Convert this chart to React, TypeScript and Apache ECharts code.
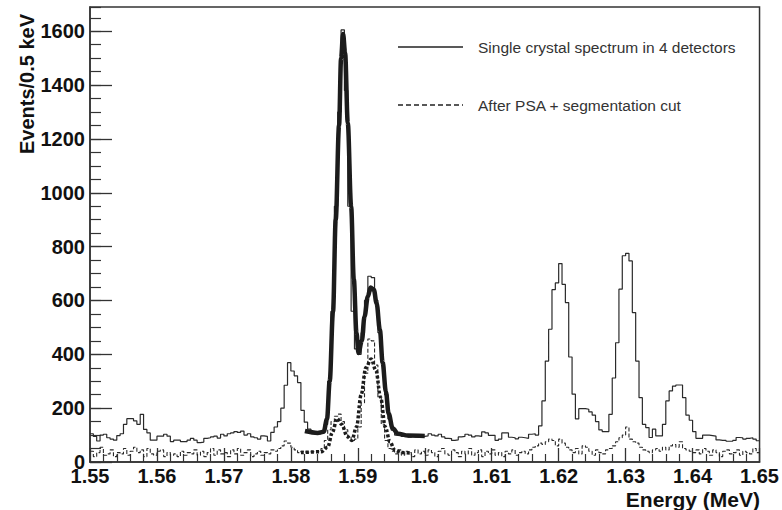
import { useEffect, useRef } from "react";
import * as echarts from "echarts";

// Histogram binning: 0.5 keV bins starting at 1.55 MeV
const BIN_START = 1.55;
const BIN_WIDTH = 0.0005;

// Events per bin, single crystal spectrum summed over 4 detectors
const singleCrystal = [
  105, 95, 78, 100, 103, 90, 85, 81, 98, 105, 140, 161, 161, 153, 140, 177, 121, 108, 81, 81,
  96, 96, 103, 96, 76, 81, 81, 76, 76, 81, 88, 81, 72, 74, 88, 90, 93, 96, 89, 103,
  97, 105, 108, 113, 110, 115, 100, 105, 93, 90, 85, 97, 95, 78, 110, 130, 150, 200, 285, 369,
  338, 320, 295, 192, 148, 122, 108, 105, 104, 110, 140, 300, 560, 950, 1300, 1605, 1380, 950, 560, 420,
  400, 480, 600, 690, 685, 600, 480, 370, 250, 160, 118, 100, 98, 95, 100, 92, 96, 93, 98, 95,
  97, 105, 100, 97, 103, 93, 88, 87, 80, 82, 93, 95, 103, 100, 93, 97, 95, 112, 108, 99,
  99, 80, 85, 108, 108, 92, 90, 86, 92, 90, 88, 103, 105, 100, 134, 227, 375, 493, 640, 665,
  737, 660, 592, 390, 252, 160, 198, 198, 196, 186, 174, 150, 119, 113, 113, 177, 312, 443, 642, 766,
  775, 747, 555, 375, 239, 140, 128, 91, 122, 97, 97, 140, 227, 264, 282, 286, 286, 239, 174, 155,
  113, 88, 88, 100, 100, 98, 96, 82, 80, 80, 77, 77, 80, 91, 90, 85, 88, 90, 85, 79,
];

// Events per bin after pulse-shape analysis + segmentation cut
const afterPsaCut = [
  40, 20, 35, 55, 25, 30, 45, 20, 35, 30, 50, 25, 40, 55, 35, 45, 20, 50, 30, 25,
  40, 45, 20, 35, 25, 30, 20, 40, 25, 35, 30, 45, 25, 40, 20, 35, 50, 25, 45, 30,
  35, 20, 45, 30, 50, 25, 35, 45, 20, 30, 40, 25, 35, 30, 45, 40, 50, 60, 78, 70,
  55, 45, 35, 40, 37, 35, 38, 36, 40, 50, 80, 120, 150, 170, 178, 150, 120, 95, 80, 85,
  130, 220, 330, 457, 450, 360, 240, 140, 80, 50, 40, 30, 45, 25, 40, 35, 20, 45, 30, 40,
  25, 45, 35, 20, 40, 50, 30, 25, 45, 35, 20, 40, 30, 50, 25, 35, 45, 20, 40, 30,
  45, 25, 35, 20, 40, 30, 45, 25, 35, 40, 30, 45, 55, 60, 70, 65, 75, 85, 80, 60,
  85, 70, 55, 45, 35, 50, 30, 60, 55, 40, 25, 45, 35, 30, 45, 50, 60, 75, 90, 100,
  130, 85, 75, 70, 55, 45, 40, 35, 45, 50, 40, 55, 45, 60, 65, 55, 75, 50, 45, 40,
  35, 45, 30, 50, 40, 25, 45, 35, 20, 40, 45, 30, 35, 45, 25, 40, 35, 30, 50, 35,
];

// Fitted doublet (energy in MeV, events per bin), full spectrum
const fitEnergies = [
  1.5821, 1.584, 1.5849, 1.5854, 1.5858, 1.5863, 1.5867, 1.5872, 1.5875, 1.5878,
  1.5881, 1.5885, 1.589, 1.5894, 1.5898, 1.5901, 1.5906, 1.591, 1.5915, 1.5919,
  1.5924, 1.5928, 1.5933, 1.5937, 1.5942, 1.5946, 1.5952, 1.596, 1.5975, 1.6,
];
const fitSingle = [
  115, 108, 112, 160, 300, 560, 900, 1250, 1500, 1590,
  1520, 1260, 950, 680, 480, 405, 450, 540, 615, 648,
  640, 590, 490, 370, 260, 180, 125, 105, 98, 97,
];

// Fitted doublet after the cut
const fitPsaEnergies = [
  1.5815, 1.5845, 1.5855, 1.5862, 1.5869, 1.5876, 1.5884, 1.5891, 1.5898, 1.5905,
  1.5912, 1.592, 1.5927, 1.5934, 1.5941, 1.5948, 1.5955, 1.5965, 1.598,
];
const fitPsa = [
  35, 38, 55, 110, 162, 140, 95, 80, 130, 250,
  350, 383, 340, 240, 130, 75, 45, 35, 33,
];

const legendLabels = ["Single crystal spectrum in 4 detectors", "After PSA + segmentation cut"];

const FONT = '"Liberation Sans", Arial, Helvetica, sans-serif';

function toSteps(values: number[]): [number, number][] {
  const pts: [number, number][] = values.map((v, i) => [BIN_START + i * BIN_WIDTH, v]);
  pts.push([BIN_START + values.length * BIN_WIDTH, values[values.length - 1]]);
  return pts;
}

function pair(xs: number[], ys: number[]): [number, number][] {
  return xs.map((x, i) => [x, ys[i]]);
}

export default function App() {
  const ref = useRef<HTMLDivElement>(null);

  useEffect(() => {
    document.body.style.margin = "0";
    if (!ref.current) return;
    const chart = echarts.init(ref.current, undefined, { renderer: "svg" });

    const ink = "#2a2a2a";

    chart.setOption({
      animation: false,
      backgroundColor: "#ffffff",
      grid: {
        left: 90,
        right: 22,
        top: 7,
        bottom: 48,
        show: true,
        borderColor: "#333",
        borderWidth: 1.5,
        backgroundColor: "transparent",
      },
      xAxis: {
        type: "value",
        min: 1.55,
        max: 1.65,
        interval: 0.01,
        axisLine: { lineStyle: { color: "#333", width: 1.5 } },
        axisTick: { inside: true, length: 14, lineStyle: { color: "#333", width: 1.3 } },
        minorTick: { show: true, splitNumber: 5, length: 8, lineStyle: { color: "#333", width: 1.2 } },
        splitLine: { show: false },
        minorSplitLine: { show: false },
        axisLabel: {
          fontSize: 20,
          fontWeight: "bold",
          fontFamily: FONT,
          color: "#111",
          margin: 4,
          formatter: (v: number) => String(+v.toFixed(2)),
        },
      },
      yAxis: [
        {
          type: "value",
          min: 0,
          max: 1690,
          interval: 200,
          axisLine: { show: true, lineStyle: { color: "#333", width: 1.5 } },
          axisTick: { show: true, inside: true, length: 22, lineStyle: { color: "#333", width: 1.3 } },
          splitLine: { show: false },
          axisLabel: {
            fontSize: 20,
            fontWeight: "bold",
            fontFamily: FONT,
            color: "#111",
            margin: 5,
            showMaxLabel: false,
            formatter: (v: number) => String(Math.round(v)),
          },
        },
        {
          type: "value",
          position: "left",
          min: 0,
          max: 1690,
          interval: 50,
          axisLine: { show: false },
          axisTick: { show: true, inside: true, length: 11, lineStyle: { color: "#333", width: 1.2 } },
          splitLine: { show: false },
          axisLabel: { show: false },
        },
      ],
      series: [
        {
          name: legendLabels[0],
          type: "line",
          step: "end",
          data: toSteps(singleCrystal),
          showSymbol: false,
          silent: true,
          lineStyle: { color: ink, width: 1.2 },
          z: 2,
        },
        {
          name: legendLabels[1],
          type: "line",
          step: "end",
          data: toSteps(afterPsaCut),
          showSymbol: false,
          silent: true,
          lineStyle: { color: ink, width: 1.1, type: [4, 2] },
          z: 2,
        },
        {
          type: "line",
          data: pair(fitEnergies, fitSingle),
          smooth: 0.35,
          smoothMonotone: "x",
          showSymbol: false,
          silent: true,
          lineStyle: { color: "#1c1c1c", width: 4.5 },
          z: 3,
        },
        {
          type: "line",
          data: pair(fitPsaEnergies, fitPsa),
          smooth: 0.35,
          smoothMonotone: "x",
          showSymbol: false,
          silent: true,
          lineStyle: { color: "#1c1c1c", width: 3.5, type: [3, 2] },
          z: 3,
        },
      ],
      graphic: [
        {
          type: "text",
          x: 27,
          y: 84,
          rotation: Math.PI / 2,
          style: {
            text: "Events/0.5 keV",
            font: `bold 20px ${FONT}`,
            fill: "#111",
            align: "center",
            verticalAlign: "middle",
          },
        },
        {
          type: "text",
          x: 760,
          y: 499,
          style: {
            text: "Energy (MeV)",
            font: `bold 21px ${FONT}`,
            fill: "#111",
            align: "right",
            verticalAlign: "middle",
          },
        },
        {
          type: "line",
          shape: { x1: 398, y1: 47, x2: 463, y2: 47 },
          style: { stroke: "#222", lineWidth: 1.5 },
        },
        {
          type: "text",
          x: 478,
          y: 47,
          style: {
            text: legendLabels[0],
            font: `15.5px ${FONT}`,
            fill: "#333",
            align: "left",
            verticalAlign: "middle",
          },
        },
        {
          type: "line",
          shape: { x1: 398, y1: 105, x2: 463, y2: 105 },
          style: { stroke: "#222", lineWidth: 1.3, lineDash: [5, 3] },
        },
        {
          type: "text",
          x: 478,
          y: 105,
          style: {
            text: legendLabels[1],
            font: `15.5px ${FONT}`,
            fill: "#333",
            align: "left",
            verticalAlign: "middle",
          },
        },
      ],
    });

    return () => chart.dispose();
  }, []);

  return (
    <div
      ref={ref}
      style={{ position: "fixed", left: 0, top: 0, width: 782, height: 510, background: "#fff" }}
    />
  );
}
